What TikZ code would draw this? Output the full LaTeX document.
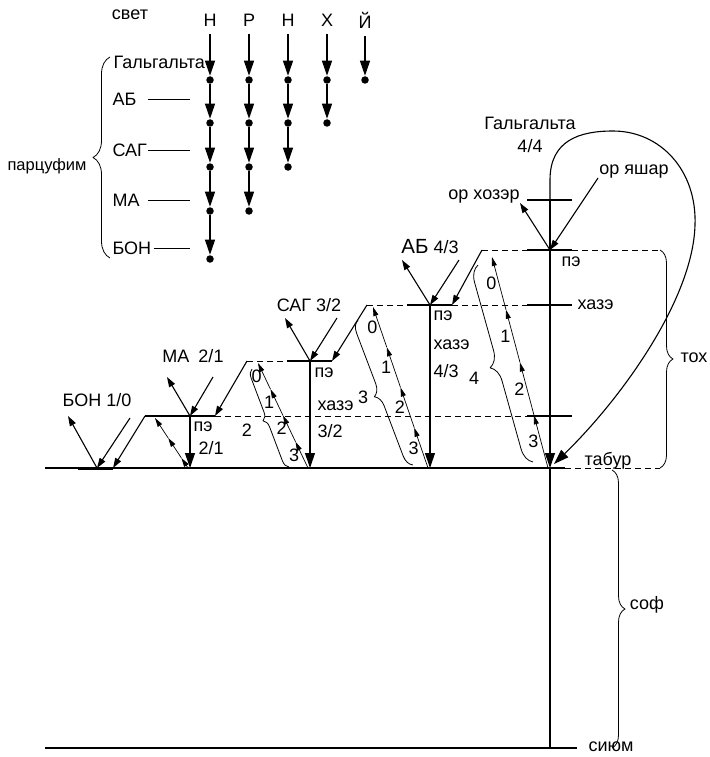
\documentclass[tikz,border=0pt]{standalone}
\usepackage{fontspec}
\setmainfont{Liberation Sans}
\usetikzlibrary{arrows.meta,positioning,calc,decorations.pathreplacing}
\tikzset{
  lbl/.style={inner sep=1pt},
  ldot/.style={circle, fill=black, inner sep=0pt, minimum size=7.5pt},
  bigarr/.style={-{Triangle[length=15pt,width=10pt]}, line width=1.1pt},
  varr/.style={-{Triangle[length=10pt,width=6.5pt]}, line width=1.1pt},
  chn/.style={-{Triangle[length=9pt,width=5pt]}, line width=0.7pt},
  lvl/.style={lbl, left=1pt},
  dsh/.style={dash pattern=on 6pt off 4pt, line width=0.9pt},
  brc/.style={decorate, decoration={brace, amplitude=#1}, line width=0.8pt},
  brc/.default=10pt,
  every picture/.append style={font=\fontsize{18}{21}\selectfont, line join=round}
}
\begin{document}
\begin{tikzpicture}[x=1pt, y=-1pt, line width=1.1pt]
  \useasboundingbox (0,0) rectangle (709,757);
  % lights and parzufim
  \node (svet) at (130,15) {свет};
  \node (tN1) at (210,20) {Н};
  \node (tR) at (249,20) {Р};
  \node (tN2) at (288,20) {Н};
  \node (tH) at (327,20) {Х};
  \node (tY) at (365,20) {Й};
  \node[ldot] (a1) at (210,80) {};
  \node[ldot] (a2) at (210,123) {};
  \node[ldot] (a3) at (210,167) {};
  \node[ldot] (a4) at (210,211) {};
  \node[ldot] (a5) at (210,259) {};
  \node[ldot] (b1) at (249,80) {};
  \node[ldot] (b2) at (249,123) {};
  \node[ldot] (b3) at (249,167) {};
  \node[ldot] (b4) at (249,211) {};
  \node[ldot] (c1) at (288,80) {};
  \node[ldot] (c2) at (288,123) {};
  \node[ldot] (c3) at (288,167) {};
  \node[ldot] (d1) at (327,80) {};
  \node[ldot] (d2) at (327,123) {};
  \node[ldot] (e1) at (365,80) {};
  \draw[bigarr, shorten <=4pt] (tN1) -- (a1);
  \draw[bigarr] (a1) -- (a2);
  \draw[bigarr] (a2) -- (a3);
  \draw[bigarr] (a3) -- (a4);
  \draw[bigarr] (a4) -- (a5);
  \draw[bigarr, shorten <=4pt] (tR) -- (b1);
  \draw[bigarr] (b1) -- (b2);
  \draw[bigarr] (b2) -- (b3);
  \draw[bigarr] (b3) -- (b4);
  \draw[bigarr, shorten <=4pt] (tN2) -- (c1);
  \draw[bigarr] (c1) -- (c2);
  \draw[bigarr] (c2) -- (c3);
  \draw[bigarr, shorten <=4pt] (tH) -- (d1);
  \draw[bigarr] (d1) -- (d2);
  \draw[bigarr, shorten <=4pt] (tY) -- (e1);
  \node[lbl, anchor=west, inner sep=0pt] (pGG) at (113,62) {Гальгальта};
  \node[lbl, anchor=west, inner sep=0pt] (pAB) at (112,99) {АБ};
  \node[lbl, anchor=west, inner sep=0pt] (pSAG) at (112,150) {САГ};
  \node[lbl, anchor=west, inner sep=0pt] (pMA) at (112,200) {МА};
  \node[lbl, anchor=west, inner sep=0pt] (pBON) at (112,248) {БОН};
  \draw[line width=0.9pt] ([xshift=11pt]pAB.east) -- ([xshift=-20pt]pAB.east -| tN1);
  \draw[line width=0.9pt] ([xshift=1pt]pSAG.east) -- ([xshift=-20pt]pSAG.east -| tN1);
  \draw[line width=0.9pt] ([xshift=8pt]pMA.east) -- ([xshift=-20pt]pMA.east -| tN1);
  \draw[line width=0.9pt] ([xshift=2pt]pBON.east) -- ([xshift=-20pt]pBON.east -| tN1);
  \draw[brc=17pt] (110,258) -- (110,57);
  \node[font=\fontsize{16.5}{19}\selectfont] (parc) at (47,166) {парцуфим};
  % levels
  \coordinate (tabL) at (45,468);
  \coordinate (tabR) at (565,468);
  \coordinate (tabE) at (660,468);
  \coordinate (siyL) at (45,748);
  \coordinate (siyR) at (577,748);
  \coordinate (bonP) at (97,468);
  \coordinate (maP) at (190,416);
  \coordinate (maB) at (190,468);
  \coordinate (sagP) at (310,361);
  \coordinate (sagB) at (310,468);
  \coordinate (abP) at (430,305);
  \coordinate (abB) at (430,468);
  \coordinate (ggP) at (550,250);
  \coordinate (ggB) at (550,468);
  \coordinate (ggTop) at (550,200);
  \coordinate (ggS) at (550,748);
  \coordinate (maC) at (145,416);
  \coordinate (sagC) at (247,361);
  \coordinate (abC) at (367,305);
  \coordinate (ggC) at (482,250);
  \coordinate (bonE) at (113,468);
  \coordinate (maE) at (215,416);
  \coordinate (sagE) at (332,361);
  \coordinate (abE) at (452,305);
  \coordinate (bonL) at (68,416);
  \coordinate (bonR) at (130,418);
  \coordinate (maL) at (167,377);
  \coordinate (maR) at (213,377);
  \coordinate (sagL) at (285,318);
  \coordinate (sagR) at (337,318);
  \coordinate (abL) at (402,260);
  \coordinate (abR) at (459,260);
  \coordinate (ggL) at (520,203);
  \coordinate (ggR) at (598,178);
  \coordinate (loopE) at (554,464);
  % base lines
  \draw[line width=1.3pt] (tabL) -- (tabR);
  \draw[dsh] (tabR) -- (tabE);
  \draw[line width=1.3pt] (siyL) -- (siyR);
  \draw[line width=3pt] ($(bonP)+(-19,0)$) -- (bonE);
  % pe bars
  \draw (maC) -- (maE);
  \draw[dsh] (sagC) -- ($(sagP)+(-23,0)$);
  \draw ($(sagP)+(-23,0)$) -- (sagE);
  \draw[dsh] (abC) -- ($(abP)+(-23,0)$);
  \draw ($(abP)+(-23,0)$) -- (abE);
  \draw[dsh] (ggC) -- ($(ggP)+(-23,0)$);
  \draw[dsh] (maE) -- ($(ggP |- maP)+(-23,0)$);
  \draw[dsh] (abE) -- ($(ggP |- abP)+(-23,0)$);
  \draw[dsh] ($(ggP)+(22,0)$) -- (ggP -| tabE);
  \draw ($(ggTop)+(-23,0)$) -- ($(ggTop)+(22,0)$);
  \draw ($(ggP)+(-23,0)$) -- ($(ggP)+(22,0)$);
  \draw ($(ggP |- abP)+(-23,0)$) -- ($(ggP |- abP)+(22,0)$);
  \draw ($(ggP |- maP)+(-23,0)$) -- ($(ggP |- maP)+(22,0)$);
  % ramps
  \draw[varr] (maC) -- (bonE);
  \draw[varr] (sagC) -- (maE);
  \draw[varr] (abC) -- (sagE);
  \draw[varr] (ggC) -- (abE);
  % verticals
  \draw[bigarr] (maP) -- (maB);
  \draw[bigarr] (sagP) -- (sagB);
  \draw[bigarr] (abP) -- (abB);
  \draw[bigarr] (ggP) -- (ggB);
  \draw (ggTop) -- (ggP);
  \draw (ggB) -- (ggS);
  \draw[bigarr] (ggTop) -- (550,180) .. controls (550,140) and (580,131) .. (613,131)
    .. controls (660,131) and (697,170) .. (695,225)
    .. controls (693,300) and (620,400) .. (loopE);
  % V arrows
  \draw[varr] (bonP) -- (bonL);
  \draw[varr] (bonR) -- (bonP);
  \draw[varr] (maP) -- (maL);
  \draw[varr] (maR) -- (maP);
  \draw[varr] (sagP) -- (sagL);
  \draw[varr] (sagR) -- (sagP);
  \draw[varr] (abP) -- (abL);
  \draw[varr] (abR) -- (abP);
  \draw[varr] (ggP) -- (ggL);
  \draw[varr] (ggR) -- (ggP);
  % chains
  \coordinate (maK0) at (188,468);
  \coordinate (maK1) at (155,418);
  \coordinate (sagK0) at (308,468);
  \coordinate (sagK1) at (258,363);
  \coordinate (abK0) at (428,468);
  \coordinate (abK1) at (373,307);
  \coordinate (ggK0) at (548,468);
  \coordinate (ggK1) at (492,257);
  \draw[chn] (maK0) -- ($(maK0)!.2!(maK1)$);
  \draw[chn] ($(maK0)!.2!(maK1)$) -- ($(maK0)!.6!(maK1)$);
  \draw[chn] ($(maK0)!.6!(maK1)$) -- (maK1);
  \draw[chn] (sagK0) -- ($(sagK0)!.25!(sagK1)$);
  \draw[chn] ($(sagK0)!.25!(sagK1)$) -- ($(sagK0)!.5!(sagK1)$);
  \draw[chn] ($(sagK0)!.5!(sagK1)$) -- ($(sagK0)!.75!(sagK1)$);
  \draw[chn] ($(sagK0)!.75!(sagK1)$) -- (sagK1);
  \draw[chn] (abK0) -- ($(abK0)!.25!(abK1)$);
  \draw[chn] ($(abK0)!.25!(abK1)$) -- ($(abK0)!.5!(abK1)$);
  \draw[chn] ($(abK0)!.5!(abK1)$) -- ($(abK0)!.75!(abK1)$);
  \draw[chn] ($(abK0)!.75!(abK1)$) -- (abK1);
  \draw[chn] (ggK0) -- ($(ggK0)!.25!(ggK1)$);
  \draw[chn] ($(ggK0)!.25!(ggK1)$) -- ($(ggK0)!.5!(ggK1)$);
  \draw[chn] ($(ggK0)!.5!(ggK1)$) -- ($(ggK0)!.75!(ggK1)$);
  \draw[chn] ($(ggK0)!.75!(ggK1)$) -- (ggK1);
  \path (sagK0) -- (sagK1)
    node[lvl, pos=.125] {3} node[lvl, pos=.375] {2}
    node[lvl, pos=.625] {1} node[lvl, pos=.875] {0};
  \path (abK0) -- (abK1)
    node[lvl, pos=.125] {3} node[lvl, pos=.375] {2}
    node[lvl, pos=.625] {1} node[lvl, pos=.875] {0};
  \path (ggK0) -- (ggK1)
    node[lvl, pos=.125] {3} node[lvl, pos=.375] {2}
    node[lvl, pos=.625] {1} node[lvl, pos=.875] {0};
  \draw[brc=8pt] (289,467) -- (252,369);
  \node[lbl] (sagN) at (247,430) {2};
  \draw[brc=12pt] (413,465) -- (358,320);
  \node[lbl] (abN) at (363,397) {3};
  \draw[brc=16pt] (533,462) -- (478,265);
  \node[lbl] (ggN) at (474,378) {4};
  % names of parzufim
  \node[lbl] (bonT) at (97,400) {БОН 1/0};
  \node[lbl] (maT) at (193,356) {МА\hspace{4pt} 2/1};
  \node[lbl] (sagT) at (309,305) {САГ 3/2};
  \node[lbl] (abT) at (430,247) {{\fontsize{20.5}{22}\selectfont АБ} 4/3};
  \node[lbl] (ggT) at (530,123) {Гальгальта};
  \node[lbl, below=7pt of ggT] (ggT2) {4/4};
  \node[lbl] (ggHoz) at (484,197) {ор хозэр};
  \node[lbl] (ggYash) at (634,172) {ор яшар};
  \node[lbl, below right=4pt and 2pt of maP] (maPe) {пэ};
  \node[lbl, anchor=west] (maN) at (197,448) {2/1};
  \node[lbl, below right=5pt and 3pt of sagP] (sagPe) {пэ};
  \node[lbl, anchor=west] (sagHz) at (316,406) {хазэ};
  \node[lbl, anchor=west] (sagN2) at (316,431) {3/2};
  \node[lbl, below right=4pt and 2pt of abP] (abPe) {пэ};
  \node[lbl, anchor=west] (abHz) at (432,345) {хазэ};
  \node[lbl, anchor=west] (abN2) at (432,371) {4/3};
  \node[lbl, below right=5pt and 10pt of ggP] (ggPe) {пэ};
  \node[lbl, anchor=west] (ggHz) at (576,305) {хазэ};
  \node[lbl] (tabur) at (608,461) {табур};
  \node[lbl] (siyum) at (611,747) {сиюм};
  % toch and sof
  \draw[brc=13pt] (660,250) -- (660,468);
  \node[lbl] (toch) at (694,358) {тох};
  \draw[brc=13pt] (612,470) -- (612,748);
  \node[lbl] (sof) at (647,605) {соф};
\end{tikzpicture}
\end{document}
